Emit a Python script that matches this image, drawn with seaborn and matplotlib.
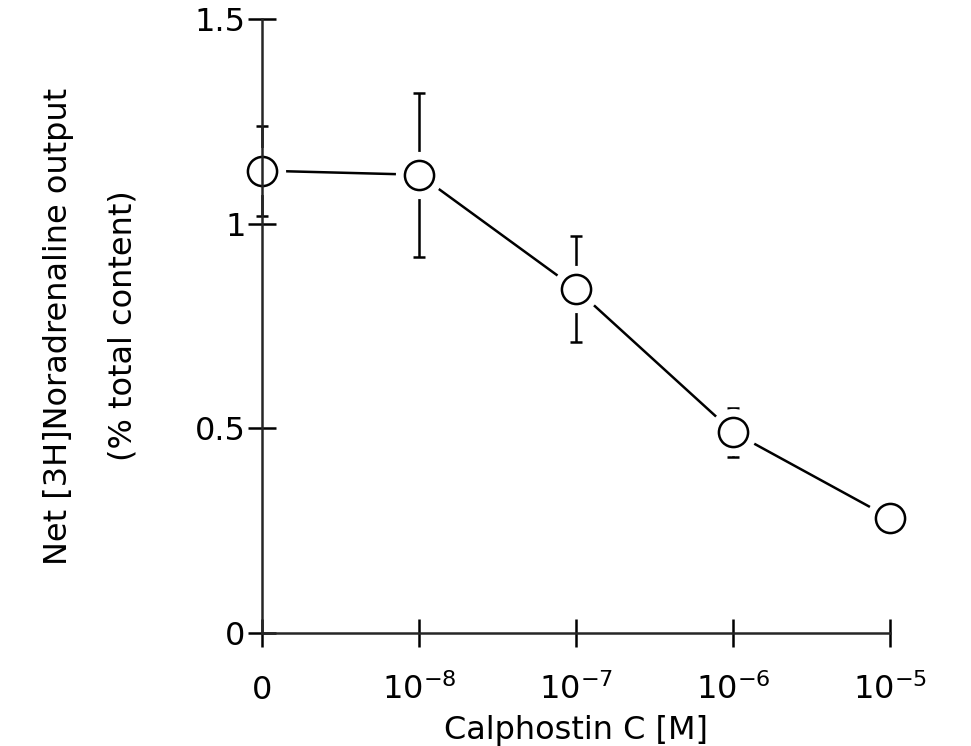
import matplotlib
matplotlib.use("Agg")
import matplotlib.pyplot as plt
import seaborn as sns
import pandas as pd

# Calphostin C concentrations (evenly spaced categories) and responses
conc_labels = ["0", r"$10^{-8}$", r"$10^{-7}$", r"$10^{-6}$", r"$10^{-5}$"]
conc_pos = [0, 1, 2, 3, 4]
output_mean = [1.13, 1.12, 0.84, 0.49, 0.28]
output_sem = [0.11, 0.20, 0.13, 0.06, 0.02]
y_ticks = [0, 0.5, 1, 1.5]
y_tick_labels = ["0", "0.5", "1", "1.5"]

df = pd.DataFrame({"pos": conc_pos, "mean": output_mean, "sem": output_sem})

sns.set_style("ticks")
plt.rcParams["font.family"] = ["DejaVu Sans"]
plt.rcParams["mathtext.fontset"] = "dejavusans"
plt.rcParams["text.color"] = "black"
plt.rcParams["axes.labelcolor"] = "black"

fig = plt.figure(figsize=(9.71, 7.46), dpi=100)
ax = fig.add_axes([0.27, 0.152, 0.647, 0.822])

lw = 1.8
fs = 23
# connecting line
sns.lineplot(data=df, x="pos", y="mean", ax=ax, color="black", lw=lw,
             zorder=1, clip_on=False)
# error bars
ax.errorbar(df["pos"], df["mean"], yerr=df["sem"], fmt="none", ecolor="black",
            elinewidth=lw, capsize=4, capthick=lw, zorder=1, clip_on=False)
# white halo so lines stop short of the symbols
ax.plot(df["pos"], df["mean"], "o", ms=33, mfc="white", mec="white",
        zorder=3, clip_on=False)
# open circle symbols
ax.plot(df["pos"], df["mean"], "o", ms=21, mfc="white", mec="black",
        mew=lw, zorder=4, clip_on=False)

ax.set_xlim(0, 4)
ax.set_ylim(0, 1.5)
ax.set_xticks(conc_pos)
ax.set_xticklabels(conc_labels)
ax.set_yticks(y_ticks)
ax.set_yticklabels(y_tick_labels)

for side in ("top", "right"):
    ax.spines[side].set_visible(False)
for side in ("left", "bottom"):
    ax.spines[side].set_linewidth(lw)
    ax.spines[side].set_zorder(5)

ax.tick_params(axis="both", direction="inout", length=20, width=lw,
               labelsize=fs, colors="black")
ax.tick_params(axis="x", pad=38)
ax.tick_params(axis="y", pad=2)
for lbl in ax.get_xticklabels():
    lbl.set_verticalalignment("baseline")

ax.set_xlabel("Calphostin C [M]", fontsize=fs, labelpad=6, color="black")
ax.set_ylabel("Net [3H]Noradrenaline output\n(% total content)", fontsize=fs,
              labelpad=40, linespacing=2.4, color="black")

fig.savefig("out.png", dpi=100, facecolor="white")
